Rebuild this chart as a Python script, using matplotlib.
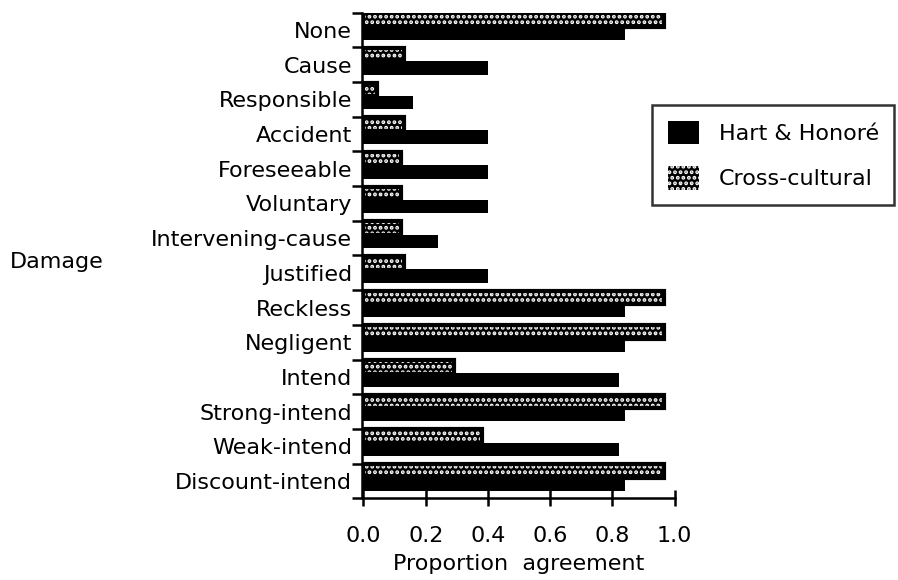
import matplotlib
matplotlib.use("Agg")
import matplotlib.pyplot as plt
import numpy as np

plt.rcParams['font.family'] = ['DejaVu Sans']
plt.rcParams['hatch.linewidth'] = 1.9

# categories top to bottom, and the two series
categories = ["None", "Cause", "Responsible", "Accident", "Foreseeable", "Voluntary",
              "Intervening-cause", "Justified", "Reckless", "Negligent", "Intend",
              "Strong-intend", "Weak-intend", "Discount-intend"]
hart_honore = [0.84, 0.40, 0.16, 0.40, 0.40, 0.40, 0.24, 0.40, 0.84, 0.84, 0.82, 0.84, 0.82, 0.84]
cross_cultural = [0.965, 0.13, 0.045, 0.13, 0.12, 0.12, 0.12, 0.13, 0.965, 0.965, 0.29, 0.965, 0.38, 0.965]
xticks = [0.0, 0.2, 0.4, 0.6, 0.8, 1.0]

fs = 16
fig = plt.figure(figsize=(8.98, 5.80), dpi=100)
ax = fig.add_axes([0.403, 0.141, 0.350, 0.837])

y = np.arange(len(categories))
h = 0.39
# stippled bars: black with white dots, then a black outline on top
ax.barh(y - 0.29, cross_cultural, height=h, color='black', edgecolor='white',
        hatch='...', linewidth=0, label='Cross-cultural')
ax.barh(y - 0.29, cross_cultural, height=h, fill=False, edgecolor='black', linewidth=3)
ax.barh(y + 0.09, hart_honore, height=h, color='black', linewidth=0,
        label='Hart & Honoré')

ax.set_ylim(len(categories) - 0.5, -0.5)
ax.set_xlim(-0.005, 1.005)

for s in ['top', 'right']:
    ax.spines[s].set_visible(False)
ax.spines['left'].set_linewidth(1.8)
ax.spines['bottom'].set_linewidth(1.8)
ax.spines['bottom'].set_bounds(0, 1.0)

ax.set_yticks(y)
ax.set_yticklabels(categories, fontsize=fs)
ax.tick_params(axis='y', which='major', length=0, pad=7)
ax.set_yticks(np.arange(len(categories) + 1) - 0.5, minor=True)
ax.tick_params(axis='y', which='minor', length=7, width=1.8, direction='out')

ax.set_xticks(xticks)
ax.set_xticklabels([f"{v:.1f}" for v in xticks], fontsize=fs)
ax.tick_params(axis='x', length=12, width=1.8, direction='inout', pad=14)
ax.set_xlabel("Proportion  agreement", fontsize=fs, labelpad=6)

fig.text(0.011, 0.548, "Damage", fontsize=fs, va='center', ha='left')

handles, labels = ax.get_legend_handles_labels()
leg = fig.legend(handles[::-1], labels[::-1], loc='upper left',
                 bbox_to_anchor=(0.726, 0.819), borderaxespad=0, fontsize=fs,
                 frameon=True, fancybox=False, edgecolor='black', handlelength=1.4,
                 handleheight=1.25, handletextpad=0.9, labelspacing=1.0,
                 borderpad=0.7)
leg.get_frame().set_linewidth(1.8)

fig.savefig("out.png", dpi=100)
